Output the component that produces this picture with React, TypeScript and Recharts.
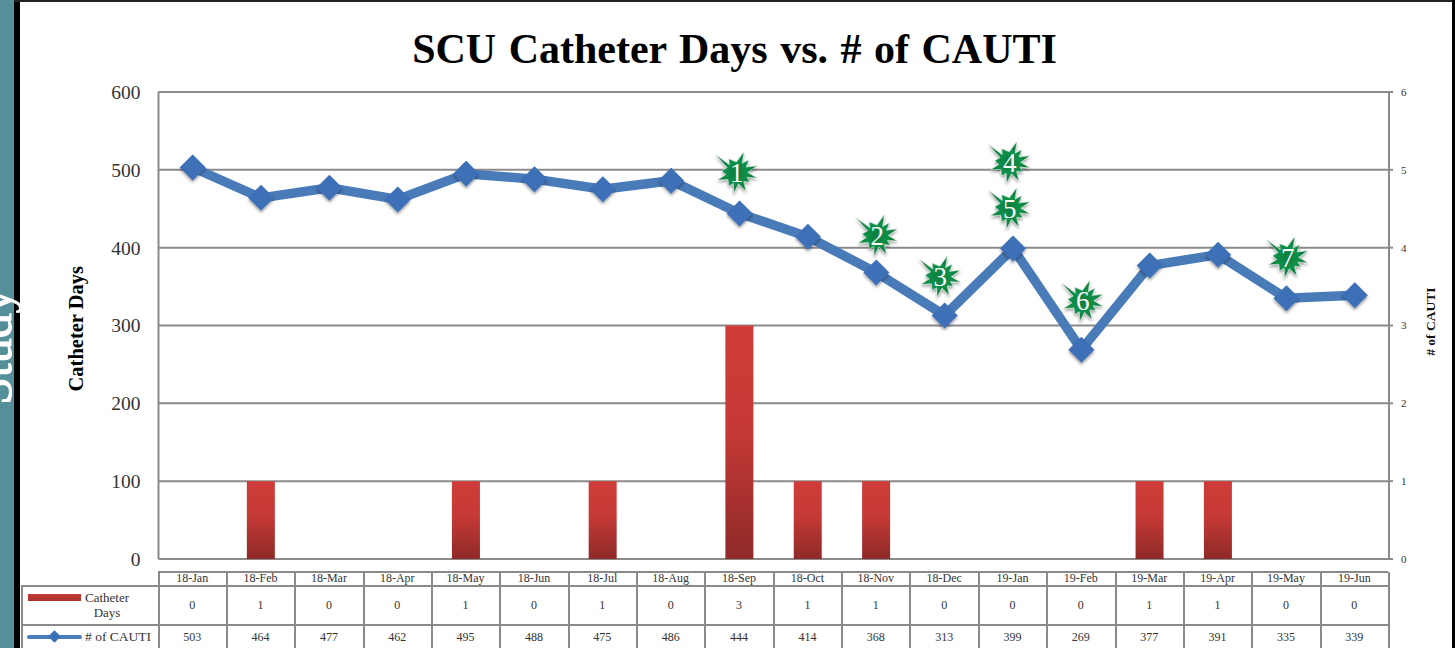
import {
  ComposedChart,
  Bar,
  Line,
  XAxis,
  YAxis,
  CartesianGrid,
  ReferenceDot,
} from 'recharts';

const months = [
  '18-Jan', '18-Feb', '18-Mar', '18-Apr', '18-May', '18-Jun', '18-Jul', '18-Aug', '18-Sep',
  '18-Oct', '18-Nov', '18-Dec', '19-Jan', '19-Feb', '19-Mar', '19-Apr', '19-May', '19-Jun',
];
const barValues = [0, 1, 0, 0, 1, 0, 1, 0, 3, 1, 1, 0, 0, 0, 1, 1, 0, 0];
const lineValues = [503, 464, 477, 462, 495, 488, 475, 486, 444, 414, 368, 313, 399, 269, 377, 391, 335, 339];
const leftTicks = [0, 100, 200, 300, 400, 500, 600];
const rightTicks = [0, 1, 2, 3, 4, 5, 6];

// the bursts sit loosely over the months, so x is read along a 0-17 axis spanning the plot
const starPlaces = [7.99, 9.93, 10.8, 11.76, 11.76, 12.77, 15.6];
const starHeights = [496, 415, 362, 509, 450, 331, 387];
const starLabels = ['1', '2', '3', '4', '5', '6', '7'];

const chartData = months.map((month, i) => ({
  month,
  bar: barValues[i],
  line: lineValues[i],
}));

const SERIF = '"Liberation Serif", serif';
const GREY = '#8a8a8a';
const PLOT_LEFT = 158.5;
const PLOT_WIDTH = 1230.5;
const COL = PLOT_WIDTH / months.length;

// tip positions of the burst, relative to its centre
const starTips = [
  [-21, -18], [-8, -14], [7, -21], [12, -13], [20, -7], [20, 5], [13, 9], [9, 18], [-3, 20], [-8, 13], [-19, 7], [-15, -2],
];

function starPath() {
  const pts: string[] = [];
  starTips.forEach(([x, y], i) => {
    const next = starTips[(i + 1) % starTips.length];
    pts.push(`${x},${y}`);
    const mx = (x + next[0]) / 2;
    const my = (y + next[1]) / 2;
    const len = Math.hypot(mx, my) || 1;
    pts.push(`${(mx / len) * 11},${(my / len) * 11}`);
  });
  return pts.join(' ');
}

function Star({ cx, cy, label }: { cx?: number; cy?: number; label: string }) {
  return (
    <g transform={`translate(${cx},${cy})`}>
      <polygon points={starPath()} fill="url(#starFill)" stroke="#cfe6d8" strokeWidth={0.6} filter="url(#softShadow)" />
      <text x={0} y={9} textAnchor="middle" fontFamily={SERIF} fontSize={27} fill="#ffffff">
        {label}
      </text>
    </g>
  );
}

function Diamond({ cx, cy }: { cx?: number; cy?: number }) {
  return (
    <polygon
      points={`${cx},${(cy ?? 0) - 13} ${(cx ?? 0) + 13},${cy} ${cx},${(cy ?? 0) + 13} ${(cx ?? 0) - 13},${cy}`}
      fill="#3c70b6"
      filter="url(#softShadow)"
    />
  );
}

function Cell({ left, top, width, height, children, size = 12 }: any) {
  return (
    <div
      style={{
        position: 'absolute',
        left,
        top,
        width,
        height,
        boxSizing: 'border-box',
        borderRight: `2px solid ${GREY}`,
        borderBottom: `2px solid ${GREY}`,
        display: 'flex',
        alignItems: 'center',
        justifyContent: 'center',
        fontFamily: SERIF,
        fontSize: size,
        color: '#333333',
      }}
    >
      {children}
    </div>
  );
}

function DataTable() {
  return (
    <div style={{ position: 'absolute', left: 0, top: 0 }}>
      {/* outer top/left rules */}
      <div style={{ position: 'absolute', left: PLOT_LEFT - 1, top: 571, width: PLOT_WIDTH, height: 2, background: GREY }} />
      <div style={{ position: 'absolute', left: PLOT_LEFT - 1, top: 571, width: 2, height: 16, background: GREY }} />
      <div style={{ position: 'absolute', left: 21, top: 585, width: 138, height: 2, background: GREY }} />
      <div style={{ position: 'absolute', left: 21, top: 585, width: 2, height: 63, background: GREY }} />
      <Cell left={21} top={586} width={138.5} height={40} size={13}>
        <div style={{ position: 'absolute', left: 7, top: 8, width: 53, height: 7, background: 'linear-gradient(#c93a37,#a92f2d)' }} />
        <div style={{ position: 'absolute', left: 57, top: 4, width: 58, textAlign: 'center', lineHeight: '15px', whiteSpace: 'nowrap' }}>
          Catheter
          <br />
          Days
        </div>
      </Cell>
      <Cell left={21} top={626} width={138.5} height={24} size={13}>
        <div style={{ position: 'absolute', left: 6, top: 9, width: 55, height: 4, background: '#4a7ebb', borderRadius: 2 }} />
        <div style={{ position: 'absolute', left: 29, top: 6, width: 9, height: 9, background: '#3c70b6', transform: 'rotate(45deg)' }} />
        <div style={{ position: 'absolute', left: 64, top: 3, whiteSpace: 'nowrap', fontSize: 13.5 }}># of CAUTI</div>
      </Cell>
      {months.map((month, i) => (
        <Cell key={month} left={PLOT_LEFT + i * COL} top={572} width={COL + 1} height={15}>
          {month}
        </Cell>
      ))}
      {barValues.map((v, i) => (
        <Cell key={i} left={PLOT_LEFT + i * COL} top={586} width={COL + 1} height={40}>
          {v}
        </Cell>
      ))}
      {lineValues.map((v, i) => (
        <Cell key={i} left={PLOT_LEFT + i * COL} top={626} width={COL + 1} height={24}>
          {v}
        </Cell>
      ))}
    </div>
  );
}

export default function App() {
  return (
    <div style={{ position: 'absolute', left: 0, top: 0, width: 1455, height: 648, overflow: 'hidden', background: '#ffffff' }}>
      <div style={{ position: 'absolute', left: 0, top: 0, width: 14, height: 648, background: '#55909a' }} />
      <div style={{ position: 'absolute', left: 14, top: 0, width: 6, height: 648, background: '#000000' }} />
      <div style={{ position: 'absolute', left: 14, top: 0, width: 1441, height: 1.5, background: '#222222' }} />
      <div style={{ position: 'absolute', left: 1452, top: 0, width: 3, height: 648, background: '#000000' }} />

      <div
        style={{
          position: 'absolute',
          left: 412,
          top: 25,
          width: 645,
          textAlign: 'center',
          fontFamily: SERIF,
          fontWeight: 700,
          fontSize: 42,
          wordSpacing: 2,
          whiteSpace: 'nowrap',
          color: '#000000',
        }}
      >
        SCU Catheter Days vs. # of CAUTI
      </div>

      <div style={{ position: 'absolute', left: 0, top: 0 }}>
        <ComposedChart
          width={1455}
          height={648}
          data={chartData}
          margin={{ top: 92, right: 26, bottom: 89, left: 88.5 }}
        >
          <defs>
            <linearGradient id="barFill" x1="0" y1="0" x2="0" y2="1">
              <stop offset="0%" stopColor="#cf3c39" />
              <stop offset="45%" stopColor="#c53936" />
              <stop offset="100%" stopColor="#8e2a28" />
            </linearGradient>
            <radialGradient id="starFill">
              <stop offset="0%" stopColor="#0a7d3e" />
              <stop offset="55%" stopColor="#0f9049" />
              <stop offset="100%" stopColor="#066a33" />
            </radialGradient>
            <filter id="softShadow" x="-30%" y="-30%" width="160%" height="170%">
              <feDropShadow dx="0" dy="2" stdDeviation="1.5" floodColor="#000000" floodOpacity="0.4" />
            </filter>
          </defs>
          <CartesianGrid yAxisId="left" vertical={false} stroke={GREY} strokeWidth={2} />
          <XAxis dataKey="month" hide />
          <XAxis xAxisId="stars" type="number" domain={[0, 17]} hide />
          <YAxis
            yAxisId="left"
            domain={[0, 600]}
            ticks={leftTicks}
            width={70}
            axisLine={{ stroke: GREY, strokeWidth: 2 }}
            tickLine={false}
            tickMargin={12}
            tick={{ fontFamily: SERIF, fontSize: 19.5, fill: '#333333' }}
            label={{
              value: 'Catheter Days',
              angle: -90,
              position: 'insideLeft',
              dx: -18,
              dy: 66,
              style: { fontFamily: SERIF, fontWeight: 700, fontSize: 20.5, fill: '#000000' },
            }}
          />
          <YAxis
            yAxisId="right"
            orientation="right"
            domain={[0, 6]}
            ticks={rightTicks}
            width={40}
            axisLine={{ stroke: GREY, strokeWidth: 2 }}
            tickLine={{ stroke: GREY, strokeWidth: 2 }}
            tickSize={4}
            tickMargin={8}
            tick={{ fontFamily: SERIF, fontSize: 11, fill: '#333333' }}
            label={{
              value: '# of CAUTI',
              angle: -90,
              position: 'insideRight',
              dx: 6,
              dy: -38,
              style: { fontFamily: SERIF, fontWeight: 700, fontSize: 13.5, fill: '#111111' },
            }}
          />
          <Bar
            yAxisId="right"
            dataKey="bar"
            barSize={28}
            fill="url(#barFill)"
            isAnimationActive={false}
          />
          <Line
            yAxisId="left"
            dataKey="line"
            type="linear"
            stroke="#4a7bb9"
            strokeWidth={9.5}
            dot={<Diamond />}
            activeDot={false}
            isAnimationActive={false}
          />
          {starPlaces.map((place, i) => (
            <ReferenceDot
              key={starLabels[i]}
              xAxisId="stars"
              yAxisId="left"
              x={place}
              y={starHeights[i]}
              r={20}
              shape={(props: any) => <Star cx={props.cx} cy={props.cy} label={starLabels[i]} />}
            />
          ))}
        </ComposedChart>
      </div>

      <DataTable />

      <svg width={24} height={648} style={{ position: 'absolute', left: 0, top: 0 }}>
        <text
          x={11}
          y={405}
          transform="rotate(-90 11 405)"
          fontFamily={SERIF}
          fontSize={50}
          fill="#ffffff"
          stroke="#ffffff"
          strokeWidth={1}
        >
          Study
        </text>
      </svg>
    </div>
  );
}
